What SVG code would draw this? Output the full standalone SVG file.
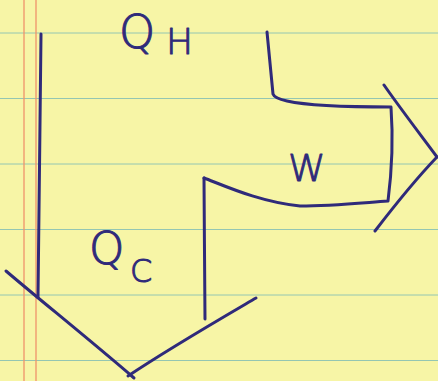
<svg xmlns="http://www.w3.org/2000/svg" width="438" height="381" viewBox="0 0 438 381">
  <style>
    .rule { stroke: #94c6b2; stroke-width: 1; }
    .margin { stroke: #f0926a; stroke-width: 1.3; }
    .pen { fill: none; stroke: #2f2a7a; stroke-width: 3; stroke-linecap: round; stroke-linejoin: round; }
    .ink { fill: #2f2a7a; stroke: #2f2a7a; stroke-width: 1; stroke-linejoin: round; font-family: "DejaVu Sans", "Liberation Sans", sans-serif; font-weight: 200; }
  </style>

  <!-- legal pad paper -->
  <g id="paper">
    <rect width="438" height="381" fill="#f7f5a6"/>
    <line class="rule" x1="0" y1="33" x2="438" y2="33"/>
    <line class="rule" x1="0" y1="98.5" x2="438" y2="98.5"/>
    <line class="rule" x1="0" y1="164" x2="438" y2="164"/>
    <line class="rule" x1="0" y1="229.5" x2="438" y2="229.5"/>
    <line class="rule" x1="0" y1="295" x2="438" y2="295"/>
    <line class="rule" x1="0" y1="360.5" x2="438" y2="360.5"/>
    <line class="margin" x1="24" y1="0" x2="24" y2="381"/>
    <line class="margin" x1="36" y1="0" x2="36" y2="381"/>
  </g>

  <!-- flow outlines -->
  <g id="connectors">
    <!-- left edge of the heat flow -->
    <path class="pen" d="M41 34 C40 120 39 220 38 297"/>
    <!-- lower arrowhead (heat rejected) -->
    <path class="pen" d="M6 271 C40 300 90 340 134 378"/>
    <path class="pen" d="M128 376 C170 348 215 322 256 298"/>
    <!-- inner edge going down to the cold side -->
    <path class="pen" d="M204 178 C204 220 205 280 205 319"/>
    <!-- work branch -->
    <path class="pen" d="M204 178 C225 186 260 202 300 206 C330 206 360 203 388 201 C392 170 393 135 391 107 C350 107 305 105 287 101 C278 99 274 97 273 94 L267 32"/>
    <!-- right arrowhead (work out) -->
    <path class="pen" d="M384 85 C400 108 420 134 437 157"/>
    <path class="pen" d="M437 157 C415 180 395 205 375 231"/>
  </g>

  <!-- labels -->
  <g id="label-qh">
    <text class="ink" x="119" y="48" font-size="46">Q</text>
    <text class="ink" x="166" y="54" font-size="36">H</text>
  </g>
  <g id="label-w">
    <text class="ink" x="288" y="181" font-size="38">W</text>
  </g>
  <g id="label-qc">
    <text class="ink" x="89" y="264" font-size="45">Q</text>
    <text class="ink" x="130" y="282" font-size="32">C</text>
  </g>
</svg>
